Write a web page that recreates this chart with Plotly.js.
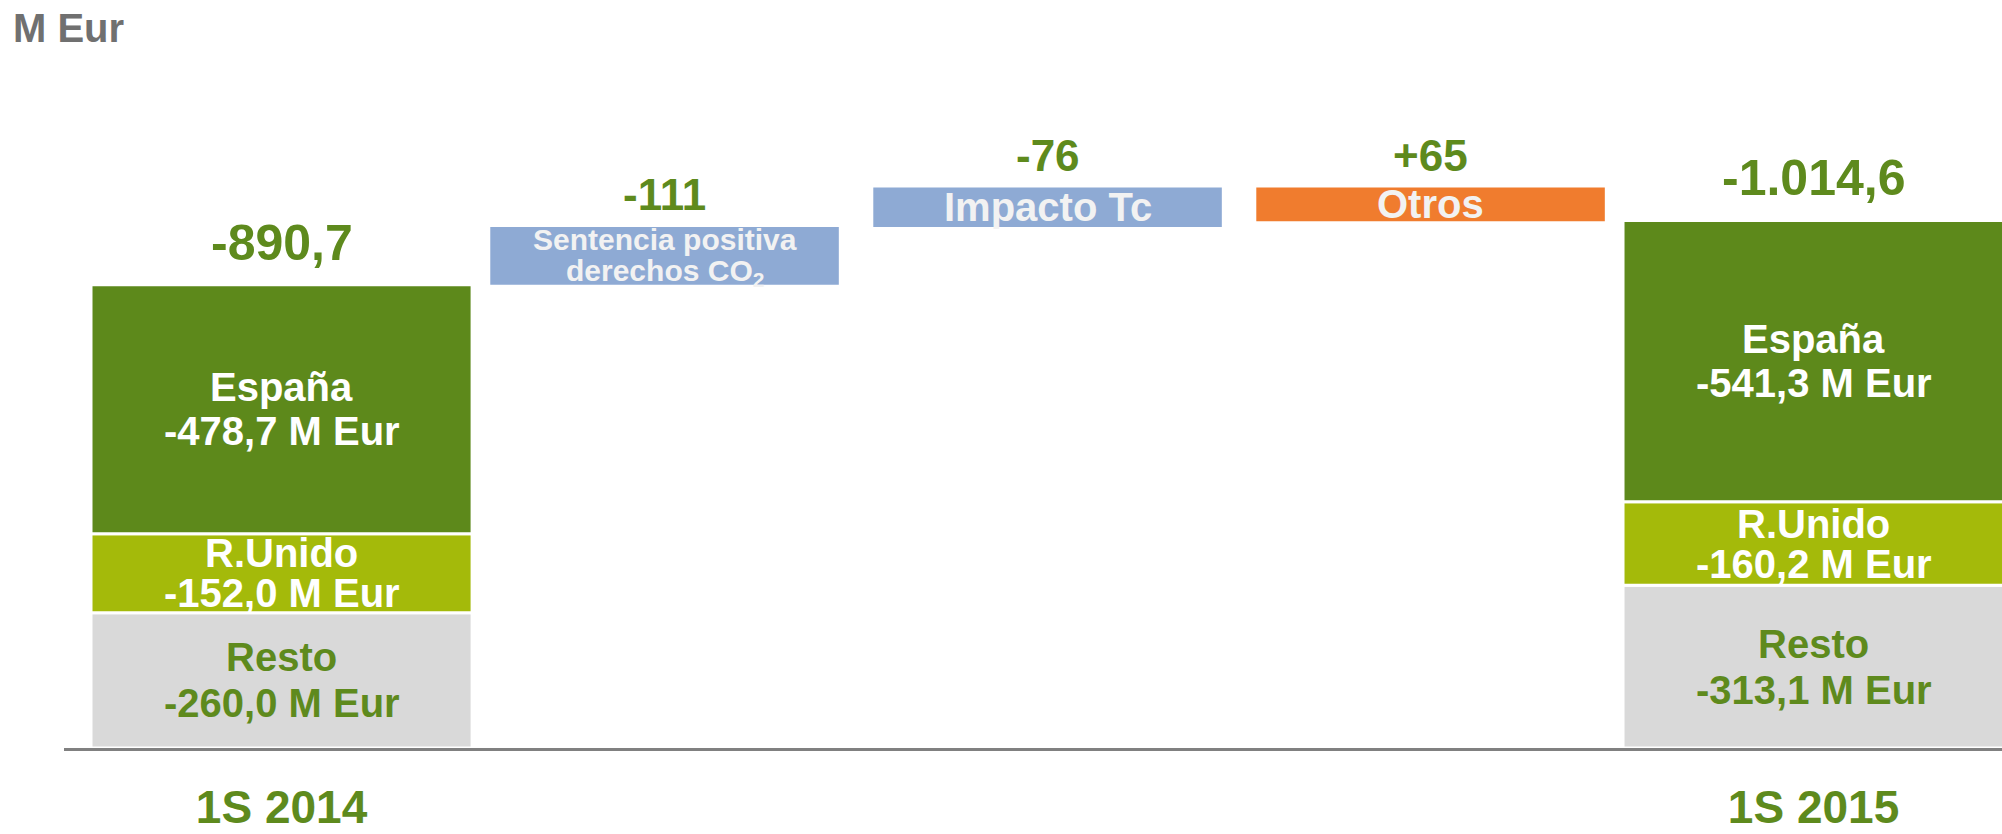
<!DOCTYPE html>
<html>
<head>
<meta charset="utf-8">
<script src="https://cdn.plot.ly/plotly-3.0.1.min.js"></script>
<style>
  html, body { margin: 0; padding: 0; background: #ffffff; }
  #chart { width: 2002px; height: 834px; }
</style>
</head>
<body>
<div id="chart"></div>
<script>
// Resultado: bridge from 1S 2014 to 1S 2015 (M Eur)
const categories = ['1S 2014', 'Sentencia positiva derechos CO2', 'Impacto Tc', 'Otros', '1S 2015'];
const periods = ['1S 2014', '1S 2015'];

// Breakdown of each period total by area
const espana = [-478.7, -541.3];
const rUnido = [-152.0, -160.2];
const resto  = [-260.0, -313.1];

// Movements between the two periods
const movementLabels = ['Sentencia positiva<br>derechos CO<sub>2</sub>', 'Impacto Tc', 'Otros'];
const movements = [-111, -76, 65];

const C = {
  espana: '#5d891b',
  rUnido: '#a4ba0a',
  resto: '#d9d9d9',
  blue: '#8eaad4',
  orange: '#f07c2e',
  green: '#5e8a1d',
  grey: '#707070',
  axis: '#808080',
  light: '#f2f2f2'
};
const FONT = '"Liberation Sans", Arial, Helvetica, sans-serif';

// Spanish number format: "." thousands, "," decimals
function esNum(v, dec, plus) {
  const s = Math.abs(v).toFixed(dec);
  let [i, d] = s.split('.');
  i = i.replace(/\B(?=(\d{3})+(?!\d))/g, '.');
  const body = d ? i + ',' + d : i;
  const sign = v < 0 ? '-' : (plus ? '+' : '');
  return sign + body;
}

const totals = periods.map((_, k) => espana[k] + rUnido[k] + resto[k]);
const endX = [categories[0], categories[4]];
const midX = categories.slice(1, 4);

// Floating bases for the movement boxes
const moveBase = [];
let running = totals[0];
movements.forEach(v => { moveBase.push(running); running += v; });

const baseRU = resto.slice();
const baseES = resto.map((r, k) => r + rUnido[k]);

const endWidth = [0.995, 0.995];
const midWidth = [0.91, 0.91, 0.91];
const sep = { color: '#ffffff', width: 3 };

const traces = [
  { type: 'bar', x: endX, y: resto, base: [0, 0], width: endWidth,
    marker: { color: C.resto, line: sep }, hoverinfo: 'skip' },
  { type: 'bar', x: endX, y: rUnido, base: baseRU, width: endWidth,
    marker: { color: C.rUnido, line: sep }, hoverinfo: 'skip' },
  { type: 'bar', x: endX, y: espana, base: baseES, width: endWidth,
    marker: { color: C.espana, line: sep }, hoverinfo: 'skip' },
  { type: 'bar', x: midX, y: movements, base: moveBase, width: midWidth,
    marker: { color: [C.blue, C.blue, C.orange], line: { width: 0 } }, hoverinfo: 'skip' }
];

const annotations = [];
function addLines(x, yc, lines, size, gap, color) {
  const n = lines.length;
  lines.forEach((t, k) => {
    annotations.push({
      x: x, y: yc, xref: 'x', yref: 'y', text: t, showarrow: false,
      xanchor: 'center', yanchor: 'middle',
      yshift: ((n - 1) / 2 - k) * gap,
      font: { family: FONT, size: size, color: color, weight: 700 }
    });
  });
}

// Segment labels inside the period bars
endX.forEach((x, k) => {
  addLines(x, baseES[k] + espana[k] / 2, ['España', esNum(espana[k], 1) + ' M Eur'], 40, 44, '#ffffff');
  addLines(x, baseRU[k] + rUnido[k] / 2, ['R.Unido', esNum(rUnido[k], 1) + ' M Eur'], 40, 40, '#ffffff');
  addLines(x, resto[k] / 2, ['Resto', esNum(resto[k], 1) + ' M Eur'], 40, 46, C.green);
  // Period total above the bar
  annotations.push({
    x: x, y: totals[k], xref: 'x', yref: 'y', text: esNum(totals[k], 1), showarrow: false,
    xanchor: 'center', yanchor: 'bottom', yshift: 12,
    font: { family: FONT, size: 50, color: C.green, weight: 700 }
  });
});

// Movement boxes: name inside, value above
midX.forEach((x, k) => {
  const b = moveBase[k], v = movements[k];
  const top = Math.min(b, b + v);
  const lines = movementLabels[k].split('<br>');
  if (lines.length > 1) {
    addLines(x, b + v / 2, lines, 30, 33, C.light);
  } else {
    addLines(x, b + v / 2, lines, 40, 44, C.light);
  }
  annotations.push({
    x: x, y: top, xref: 'x', yref: 'y', text: esNum(v, 0, true), showarrow: false,
    xanchor: 'center', yanchor: 'bottom', yshift: 6,
    font: { family: FONT, size: 44, color: C.green, weight: 700 }
  });
});

const layout = {
  width: 2002, height: 834,
  margin: { l: 64, r: 0, t: 60, b: 86 },
  paper_bgcolor: '#ffffff', plot_bgcolor: '#ffffff',
  barmode: 'overlay',
  showlegend: false,
  title: {
    text: 'M Eur', xref: 'container', yref: 'container',
    x: 0.0065, xanchor: 'left', y: 0.966, yanchor: 'middle',
    font: { family: FONT, size: 40, color: C.grey, weight: 700 }
  },
  xaxis: {
    type: 'category', categoryorder: 'array', categoryarray: categories,
    range: [-0.568, 4.492],
    tickvals: [categories[0], categories[4]],
    ticktext: [categories[0], categories[4]],
    ticks: 'outside', ticklen: 17, tickcolor: 'rgba(0,0,0,0)',
    tickfont: { family: FONT, size: 46, color: C.green, weight: 700 },
    showline: true, linecolor: C.axis, linewidth: 3,
    showgrid: false, zeroline: false, automargin: false, fixedrange: true
  },
  yaxis: {
    range: [0, -1323],
    visible: false, showgrid: false, zeroline: false, fixedrange: true
  },
  annotations: annotations
};

Plotly.newPlot('chart', traces, layout, { displayModeBar: false, staticPlot: true });
</script>
</body>
</html>
